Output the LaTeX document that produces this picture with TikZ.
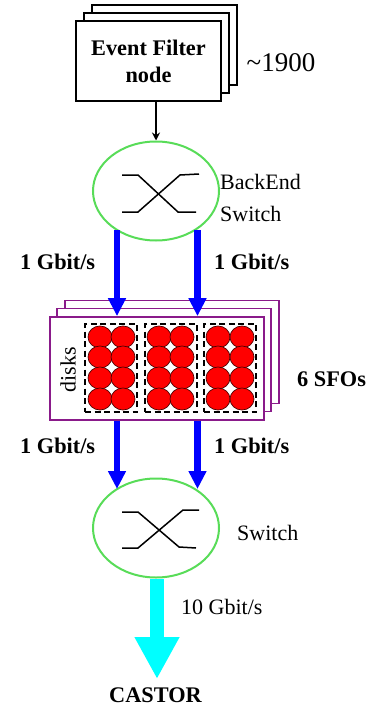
\documentclass[tikz,border=0pt]{standalone}
\usepackage{fontspec}
\setmainfont{Liberation Serif}
\usetikzlibrary{arrows.meta,shapes.geometric}

\definecolor{switchgreen}{HTML}{58DC58}
\definecolor{sfopurple}{HTML}{8A1A8A}
\definecolor{castorcyan}{HTML}{00FFFF}
\definecolor{gbitblue}{HTML}{0000FF}

\tikzset{
  efbox/.style={draw, line width=1.7pt, fill=white, minimum width=145pt, minimum height=80pt, inner sep=0pt},
  sfobox/.style={draw=sfopurple, line width=1.7pt, fill=white, minimum width=214pt, minimum height=103pt, inner sep=0pt},
  switchnode/.style={draw=switchgreen, line width=2pt, ellipse, fill=white, minimum width=126pt, minimum height=99pt, inner sep=0pt},
  diskgroup/.style={draw, line width=1.2pt, dash pattern=on 6pt off 3.5pt, minimum width=52pt, minimum height=88pt, inner sep=0pt},
  disk/.style={draw=black!70!red, fill=red, line width=0.7pt, ellipse, minimum width=24pt, minimum height=22pt, inner sep=0pt},
  cross/.style={line width=1.5pt},
  gbit/.style={gbitblue, line width=6.5pt, -{Triangle[length=18pt,width=17pt]}},
  label/.style={font=\fontsize{22}{24}\selectfont, inner sep=0pt},
  boldlabel/.style={font=\fontsize{22.3}{27}\selectfont\bfseries, inner sep=0pt, align=center}
}

\begin{document}
\begin{tikzpicture}[x=1pt, y=-1pt]
            \useasboundingbox (0,0) rectangle (368,706);

            \node [efbox] (ef3) at (164.5,45) {};                                  %Event Filter Stapel
            \node [efbox] (ef2) at (156.5,53) {};
            \node [efbox, boldlabel] (ef1) at (148.5,61) {Event Filter\\node};
            \node [label] (count) at (281,63) {\fontsize{27}{28}\selectfont\textasciitilde 1900};

            \node [switchnode] (backend) at (156,191) {};                          %BackEnd Switch
            \draw [line width=1.3pt, -{Stealth[length=8pt,width=8pt]}] (ef1.south -| backend.north) -- (backend.north);
            \draw [cross] (122,175) -- (138,175) -- (178,212) -- (196,212);
            \draw [cross] (122,212) -- (138,212) -- (180,175) -- (199,174);
            \node [label, anchor=west] (be1) at (220,182) {BackEnd};
            \node [label, anchor=west] (be2) at (220,214) {Switch};

            \node [sfobox] (sfo3) at (172,352) {};                                 %SFO Stapel
            \node [sfobox] (sfo2) at (164,360) {};
            \node [sfobox] (sfo1) at (157,368.5) {};
            \node [label, rotate=90] (disks) at (68,370) {disks};

            \foreach \gx/\a/\b [count=\g] in {111/100/123, 171/159/182, 230/218/242}{
              \node [diskgroup] (group\g) at (\gx,368) {};
              \foreach \y [count=\r] in {337,357,378,399}{
                \node [disk] (disk\g a\r) at (\a,\y) {};
                \node [disk] (disk\g b\r) at (\b,\y) {};
              }
            }

            \coordinate (up1) at (117,230);
            \coordinate (up2) at (197.5,230);
            \draw [gbit] (up1) -- (up1 |- sfo1.north);                             %Switch zu SFO
            \draw [gbit] (up2) -- (up2 |- sfo1.north);

            \node [switchnode] (switch) at (156,528) {};                           %unterer Switch
            \draw [cross] (122,512) -- (138,512) -- (179,547) -- (196,548);
            \draw [cross] (122,548) -- (138,548) -- (183,510) -- (199,510);
            \node [label, anchor=west] (sw) at (237,533) {Switch};

            \coordinate (low1) at (117,489);
            \coordinate (low2) at (197.5,489);
            \draw [gbit] (low1 |- sfo1.south) -- (low1);                           %SFO zu Switch
            \draw [gbit] (low2 |- sfo1.south) -- (low2);

            \node [boldlabel] (castor) at (155.5,695) {CASTOR};
            \coordinate (out) at (157,679);
            \draw [castorcyan, line width=14pt, -{Triangle[length=42pt,width=42pt]}] (switch.south -| out) -- (out);
            \node [label, anchor=west] (rate) at (181,607) {10 Gbit/s};

            \node [boldlabel, anchor=west] (r1) at (20,262) {1 Gbit/s};
            \node [boldlabel, anchor=west] (r2) at (214,262) {1 Gbit/s};
            \node [boldlabel, anchor=west] (r3) at (20,446) {1 Gbit/s};
            \node [boldlabel, anchor=west] (r4) at (214,446) {1 Gbit/s};
            \node [boldlabel, anchor=west] (sfos) at (297,379) {6 SFOs};
        \end{tikzpicture}
\end{document}
